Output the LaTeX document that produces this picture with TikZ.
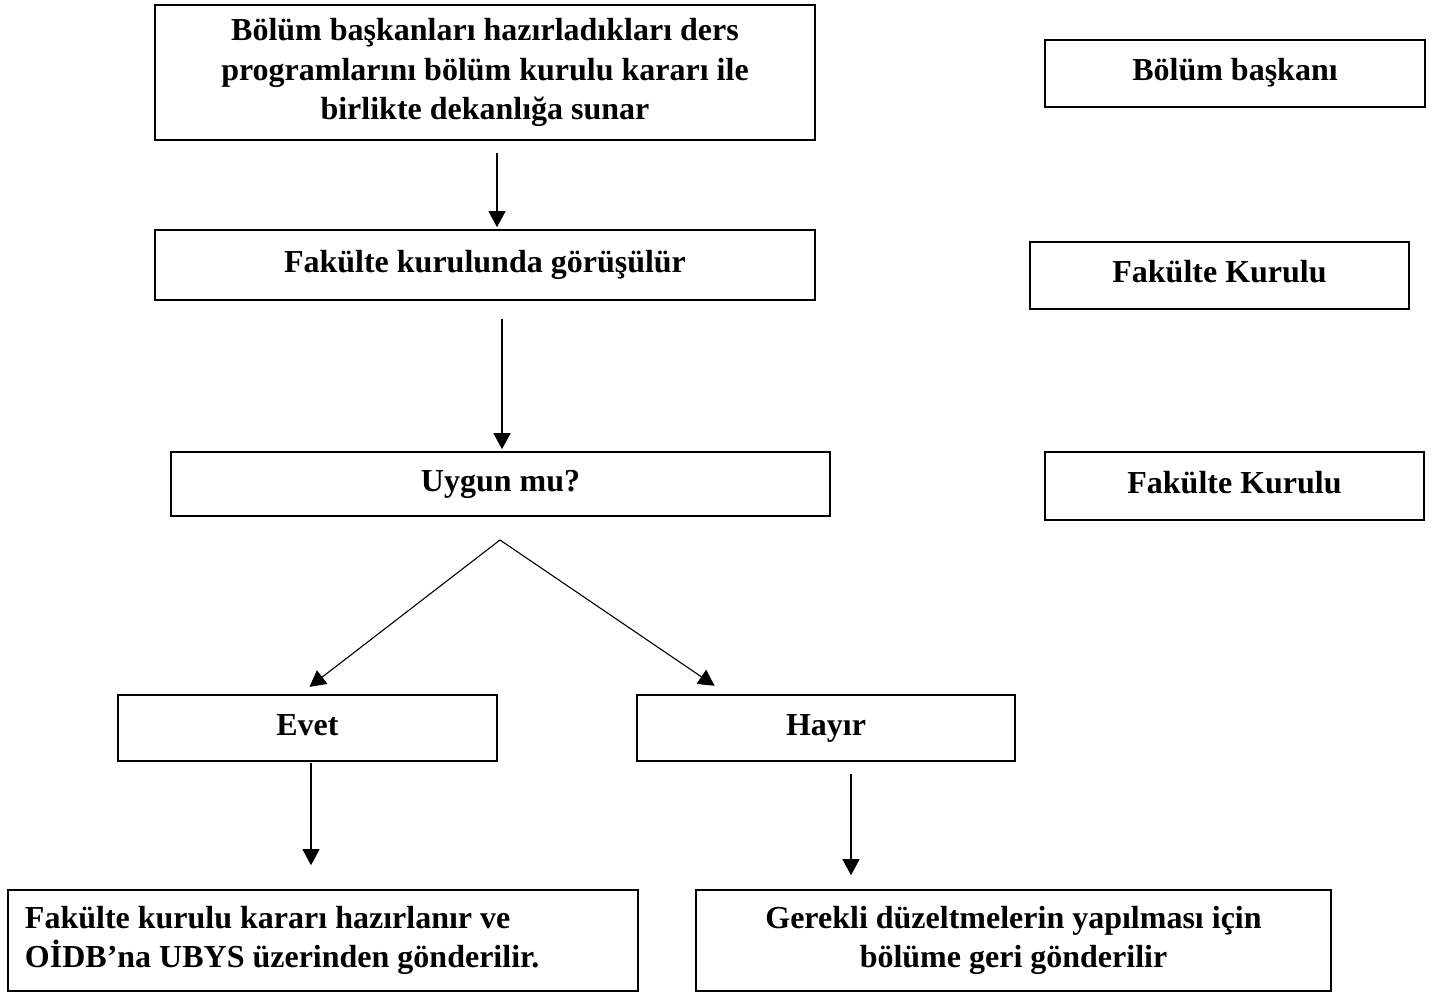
\documentclass[tikz,border=0pt]{standalone}
\usepackage{fontspec}
\setmainfont{Liberation Serif}
\usetikzlibrary{arrows.meta, positioning}

\begin{document}
\begin{tikzpicture}[x=0.5pt, y=-0.5pt, >={Triangle[length=8pt,width=8.5pt]},
    box/.style={draw, line width=0.8pt, align=center, inner sep=0pt,
        font=\fontsize{16}{19.75}\selectfont\bfseries},
    single/.style={text height=11.5pt, text depth=4pt},
    conn/.style={->, line width=0.55pt}]
            \useasboundingbox (0,0) rectangle (1440,994);

            \node[box, minimum width=330pt, minimum height=67.5pt] (sunar) at (485,72.5) {Bölüm başkanları hazırladıkları ders \\ programlarını bölüm kurulu kararı ile \\ birlikte dekanlığa sunar};
            \node[box, single, minimum width=190pt, minimum height=33.5pt] (baskan) at (1235,73.5) {Bölüm başkanı};

            \node[box, single, minimum width=330pt, minimum height=35pt] (gorus) at (485,265) {Fakülte kurulunda görüşülür};
            \node[box, single, minimum width=189.5pt, minimum height=33.5pt] (kurul-1) at (1219.5,275.5) {Fakülte Kurulu};

            \node[box, single, minimum width=329.5pt, minimum height=32pt] (uygun) at (500.5,484) {Uygun mu?};
            \node[box, single, minimum width=189.5pt, minimum height=34pt] (kurul-2) at (1234.5,486) {Fakülte Kurulu};

            \node[box, single, minimum width=189.5pt, minimum height=33pt] (evet) at (307.5,728) {Evet};
            \node[box, single, minimum width=189pt, minimum height=33pt] (hayir) at (826,728) {Hayır};

            \node[box, minimum width=315pt, minimum height=50.5pt, align=flush left, text width=298pt, inner xsep=8.5pt] (gonder) at (323,940.5) {Fakülte kurulu kararı hazırlanır ve \\ OİDB’na UBYS üzerinden gönderilir.};
            \node[box, minimum width=317.5pt, minimum height=50.5pt] (geri) at (1013.5,940.5) {Gerekli düzeltmelerin yapılması için \\ bölüme geri gönderilir};

            \coordinate (apex) at (500,540);

            % Connections
            \draw[conn, shorten <=6pt, shorten >=1pt] ([xshift=6pt]sunar.south) -- ([xshift=6pt]gorus.north);
            \draw[conn, shorten <=9pt, shorten >=1pt] ([xshift=8.5pt]gorus.south) -- ([xshift=8.5pt]gorus.south |- uygun.north);

            \draw[conn, shorten >=6pt] (apex) -- ([xshift=-3.75pt]evet.north);
            \draw[conn, shorten >=7.5pt] (apex) -- ([xshift=-49.5pt]hayir.north);

            \draw[conn, shorten <=0.5pt, shorten >=12pt] ([xshift=1.75pt]evet.south) -- ([xshift=1.75pt]evet.south |- gonder.north);
            \draw[conn, shorten <=6pt, shorten >=7pt] ([xshift=12.5pt]hayir.south) -- ([xshift=12.5pt]hayir.south |- geri.north);

        \end{tikzpicture}
\end{document}
